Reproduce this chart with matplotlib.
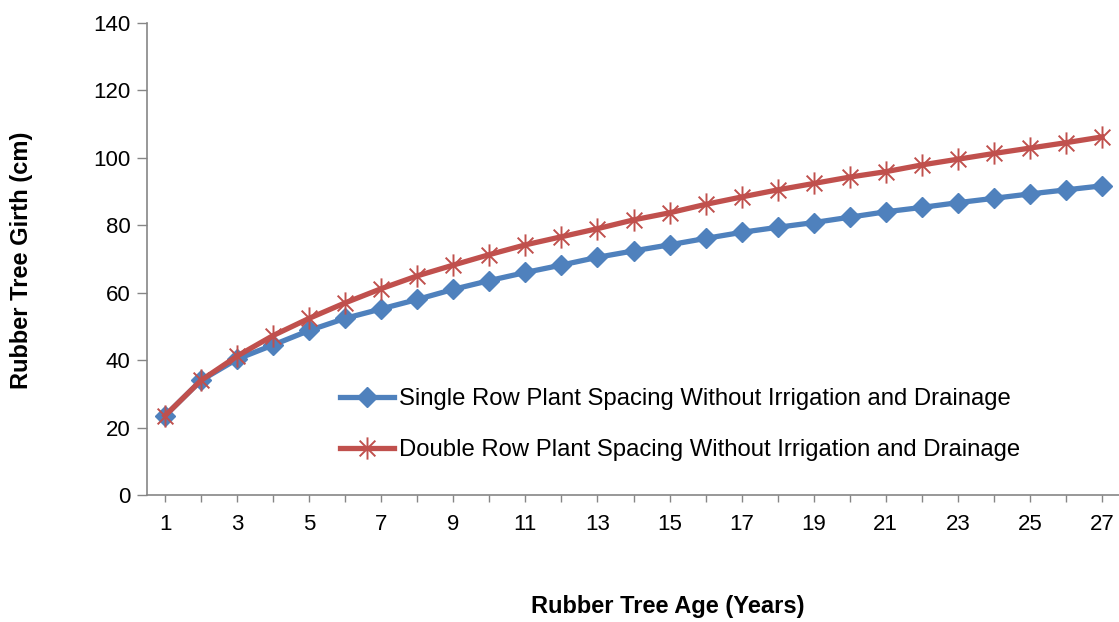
import matplotlib
matplotlib.use("Agg")
import matplotlib.pyplot as plt
from matplotlib.path import Path

plt.rcParams['font.family'] = ['Liberation Sans', 'DejaVu Sans']

years = list(range(1, 28))
single_row = [23.5, 34.0, 40.3, 44.5, 48.8, 52.4, 55.2, 58.0, 61.0, 63.6,
              66.0, 68.2, 70.5, 72.4, 74.2, 76.1, 77.9, 79.4, 80.8, 82.4,
              84.0, 85.3, 86.7, 88.0, 89.3, 90.5, 91.7]
double_row = [23.5, 34.0, 41.2, 47.3, 52.4, 57.0, 61.2, 65.0, 68.2, 71.3,
              74.2, 76.6, 79.0, 81.6, 83.7, 86.2, 88.4, 90.5, 92.4, 94.3,
              95.9, 97.9, 99.6, 101.3, 102.9, 104.5, 106.2]
labels = ["Single Row Plant Spacing Without Irrigation and Drainage",
          "Double Row Plant Spacing Without Irrigation and Drainage"]
xtick_labels = [str(y) if y % 2 == 1 else "" for y in years]

blue = "#4F81BD"
red = "#C0504D"
grey = "#868686"

r = 0.7071
star = Path([(0, -1), (0, 1), (-r, -r), (r, r), (-r, r), (r, -r)],
            [Path.MOVETO, Path.LINETO, Path.MOVETO, Path.LINETO, Path.MOVETO, Path.LINETO])

fig = plt.figure(figsize=(11.19, 6.22), dpi=100)
ax = fig.add_axes([147/1119, 1-495/622, (1120-147)/1119, (495-23)/622])

ax.plot(years, single_row, color=blue, lw=3.8, marker='D', markersize=10.5,
        markerfacecolor=blue, markeredgecolor=blue, label=labels[0], zorder=3)
ax.plot(years, double_row, color=red, lw=3.8, marker=star, markersize=16,
        markerfacecolor='none', markeredgecolor=red, markeredgewidth=1.4,
        label=labels[1], zorder=4)

ax.set_xlim(0.5, 27.5)
ax.set_ylim(0, 140)
ax.set_yticks(range(0, 141, 20))
ax.set_xticks(years)
ax.set_xticklabels(xtick_labels)

for s in ['top', 'right']:
    ax.spines[s].set_visible(False)
for s in ['left', 'bottom']:
    ax.spines[s].set_color(grey)
    ax.spines[s].set_linewidth(1.2)
ax.tick_params(axis='y', length=7, width=1.0, color=grey, labelsize=16, pad=5)
ax.tick_params(axis='x', length=5, width=1.0, color=grey, labelsize=16, pad=9)

fig.text(668/1119, 1-607/622, "Rubber Tree Age (Years)", ha='center', va='center',
         fontsize=17, fontweight='bold')
fig.text(22/1119, 1-260/622, "Rubber Tree Girth (cm)", ha='center', va='center',
         fontsize=17, fontweight='bold', rotation=90)

leg = ax.legend(loc='upper left', bbox_to_anchor=(340/1119, 1-388/622),
                bbox_transform=fig.transFigure, frameon=False, fontsize=17.2,
                handlelength=2.25, handletextpad=0.2, labelspacing=1.22,
                borderpad=0, borderaxespad=0)

fig.savefig("out.png", dpi=100)
